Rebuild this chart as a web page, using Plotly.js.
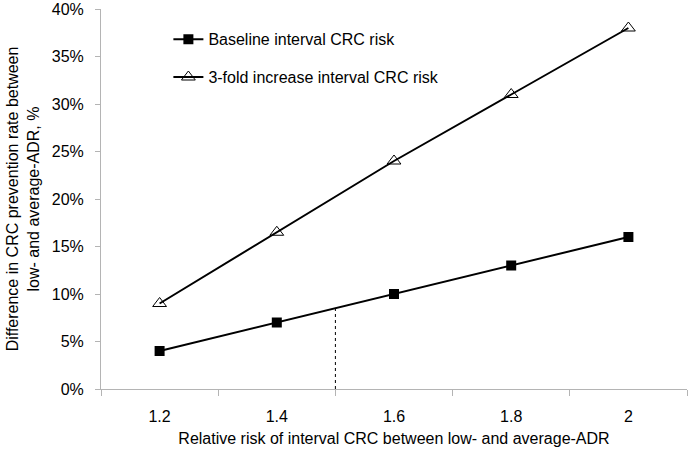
<!DOCTYPE html>
<html>
<head>
<meta charset="utf-8">
<script src="https://cdn.plot.ly/plotly-3.0.1.min.js"></script>
<style>html,body{margin:0;padding:0;background:#fff;}#chart{width:688px;height:450px;}</style>
</head>
<body>
<div id="chart"></div>
<script>
const relativeRisk = [1.2, 1.4, 1.6, 1.8, 2];
const tickLabels = ['1.2', '1.4', '1.6', '1.8', '2'];
const baselineRisk = [0.04, 0.07, 0.10, 0.13, 0.16];
const threeFoldRisk = [0.09, 0.165, 0.24, 0.31, 0.38];
const refLineX = [1.5, 1.5];
const refLineY = [0, 0.085];

const font = 'Liberation Sans, Arial, Helvetica, sans-serif';

const traces = [
  {
    x: relativeRisk, y: baselineRisk, name: 'Baseline interval CRC risk',
    type: 'scatter', mode: 'lines+markers', legendgroup: 'a',
    line: {color: '#000', width: 2},
    marker: {symbol: 'square', size: 10, color: '#000'}
  },
  {
    x: relativeRisk, y: threeFoldRisk, name: '3-fold increase interval CRC risk',
    type: 'scatter', mode: 'lines+markers', legendgroup: 'b',
    line: {color: '#000', width: 2},
    marker: {symbol: 'triangle-up-open', size: 12, color: '#000', line: {width: 1, color: '#000'}}
  },
  {
    x: refLineX, y: refLineY, type: 'scatter', mode: 'lines', showlegend: false,
    hoverinfo: 'skip',
    line: {color: '#000', width: 1, dash: '3px,3px'}
  }
];

const layout = {
  width: 688, height: 450,
  margin: {l: 101, r: 1, t: 9, b: 61, autoexpand: false},
  paper_bgcolor: '#fff', plot_bgcolor: '#fff',
  font: {family: font, size: 16, color: '#000'},
  showlegend: true,
  legend: {
    x: 0.115, y: 0.965, xanchor: 'left', yanchor: 'top',
    bgcolor: 'rgba(0,0,0,0)', borderwidth: 0,
    font: {family: font, size: 16, color: '#000'},
    tracegroupgap: 14, traceorder: 'grouped', itemwidth: 30
  },
  xaxis: {
    range: [1.1, 2.1], automargin: false,
    tickvals: relativeRisk, ticktext: tickLabels,
    ticks: '', showgrid: false, zeroline: false,
    showline: true, linecolor: '#b4b4b4', linewidth: 1,
    tickfont: {family: font, size: 16, color: '#000'},
    ticklabelstandoff: 13,
    minor: {tick0: 1.1, dtick: 0.2, ticks: 'outside', ticklen: 6, tickcolor: '#b4b4b4', showgrid: false},
    title: {text: 'Relative risk of interval CRC between low- and average-ADR',
            font: {family: font, size: 16, color: '#000'}, standoff: 8}
  },
  yaxis: {
    range: [0, 0.40], dtick: 0.05, tickformat: '.0%', automargin: false,
    ticks: 'outside', ticklen: 5, tickcolor: '#b4b4b4',
    showgrid: false, zeroline: false,
    showline: true, linecolor: '#b4b4b4', linewidth: 1,
    tickfont: {family: font, size: 16, color: '#000'},
    ticklabelstandoff: 8,
    title: {text: 'Difference in CRC prevention rate between<br>low- and average-ADR, %',
            font: {family: font, size: 16, color: '#000'}, standoff: 8}
  }
};

Plotly.newPlot('chart', traces, layout, {displayModeBar: false, staticPlot: true});
</script>
</body>
</html>
